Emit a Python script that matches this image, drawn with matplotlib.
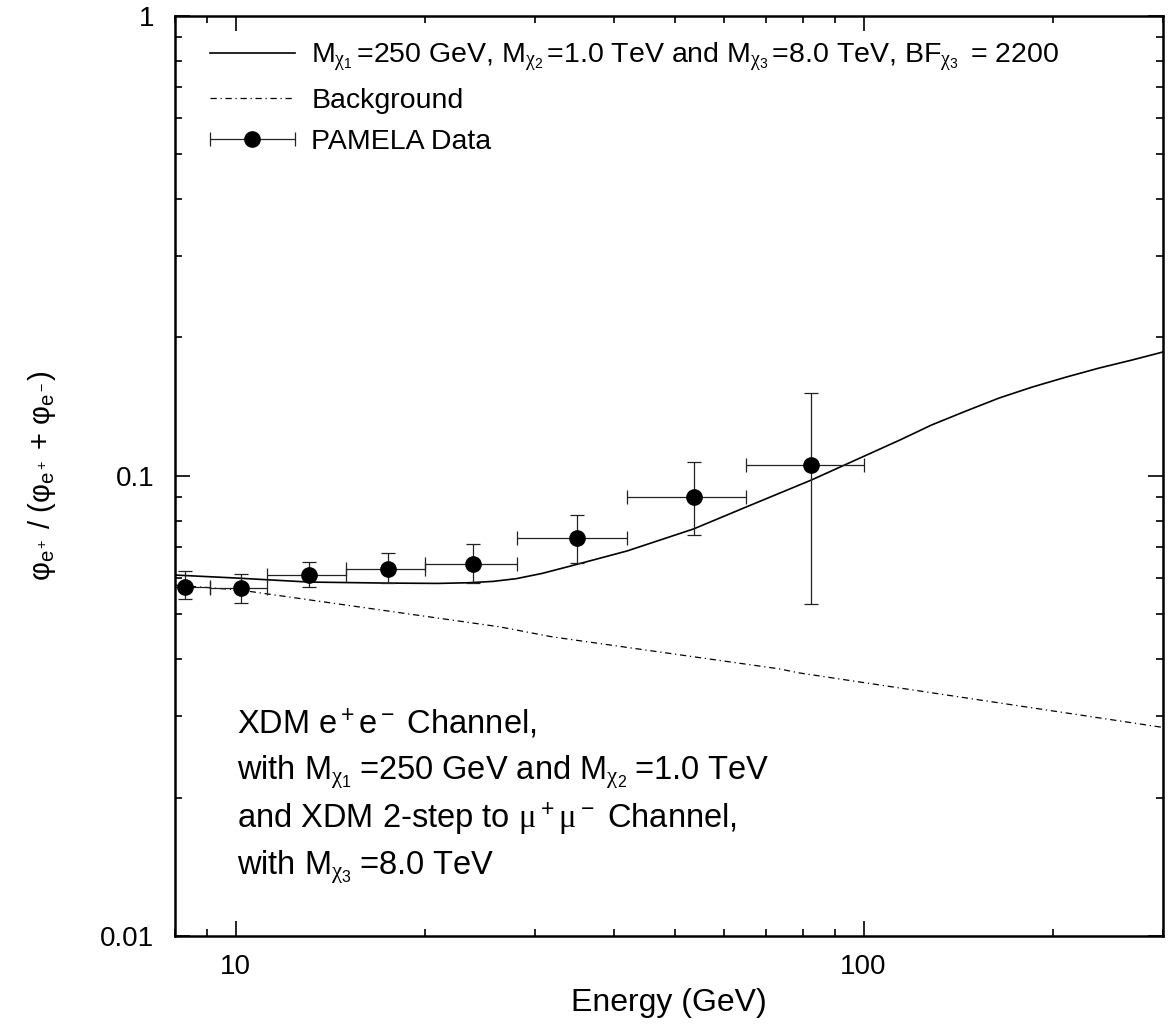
import matplotlib
matplotlib.use('Agg')
import matplotlib.pyplot as plt
from matplotlib.container import ErrorbarContainer
from matplotlib.legend_handler import HandlerErrorbar

plt.rcParams['font.family'] = ['Liberation Sans', 'DejaVu Sans']
plt.rcParams['mathtext.fontset'] = 'custom'
plt.rcParams['mathtext.rm'] = 'Liberation Sans'
plt.rcParams['mathtext.it'] = 'Liberation Serif'
plt.rcParams['mathtext.bf'] = 'Liberation Sans:bold'

# PAMELA positron fraction (bin centre, bin edges, value, error band)
pamela_e = [8.3, 10.2, 13.1, 17.5, 23.9, 34.9, 53.6, 82.6]
pamela_e_lo = [7.7, 9.1, 11.2, 15.0, 20.0, 28.0, 42.0, 65.0]
pamela_e_hi = [9.1, 11.2, 15.0, 20.0, 28.0, 42.0, 65.0, 100.0]
pamela_frac = [0.0574, 0.0571, 0.0609, 0.0628, 0.0644, 0.0733, 0.0900, 0.1057]
pamela_frac_lo = [0.0540, 0.0530, 0.0574, 0.0585, 0.0585, 0.0647, 0.0744, 0.0527]
pamela_frac_hi = [0.0621, 0.0612, 0.0650, 0.0681, 0.0711, 0.0822, 0.1072, 0.1515]

# XDM model curve
model_e = [8.0, 10.0, 13.07, 17.35, 21.0, 23.5, 25.7, 27.96, 30.76, 33.97, 37.93,
           42.0, 53.6, 65.0, 82.6, 99.6, 114.4, 128.4, 145.6, 164.4, 185.8,
           210.5, 237.6, 268.3, 300.0]
model_frac = [0.0609, 0.0600, 0.0588, 0.0585, 0.0584, 0.0586, 0.0590, 0.0598,
              0.0614, 0.0636, 0.0662, 0.0687, 0.0767, 0.0856, 0.0980, 0.1100,
              0.1198, 0.1291, 0.1384, 0.1477, 0.1561, 0.1641, 0.1717, 0.1788,
              0.1860]

# background
bg_e = [8.0, 10.15, 26.3, 31.9, 73.2, 79.1, 300.0]
bg_frac = [0.0579, 0.0565, 0.0470, 0.0447, 0.0381, 0.0373, 0.0284]

model_label = (r'M$_{\chi_1}\,$=250 GeV, M$_{\chi_2}\,$=1.0 TeV and '
               r'M$_{\chi_3}\,$=8.0 TeV, BF$_{\chi_3}\,$ = 2200')
note_lines = [r'XDM e$^+$e$^-$ Channel,',
              r'with M$_{\chi_1}\;$=250 GeV and M$_{\chi_2}\;$=1.0 TeV',
              r'and XDM 2-step to $\mu^+\mu^-$ Channel,',
              r'with M$_{\chi_3}\;$=8.0 TeV']

fig = plt.figure(figsize=(11.69, 10.29), dpi=100)
ax = fig.add_axes([0.1497, 0.0904, 0.8452, 0.8941])

ax.plot(model_e, model_frac, color='black', lw=1.2, label=model_label)
ax.plot(bg_e, bg_frac, color='black', lw=0.9, dashes=(5, 3, 1, 3), label='Background')

xerr = [[c - l for c, l in zip(pamela_e, pamela_e_lo)],
        [h - c for c, h in zip(pamela_e, pamela_e_hi)]]
yerr = [[c - l for c, l in zip(pamela_frac, pamela_frac_lo)],
        [h - c for c, h in zip(pamela_frac, pamela_frac_hi)]]
data = ax.errorbar(pamela_e, pamela_frac, xerr=xerr, fmt='o', color='black',
                   ecolor='#222222', ms=11, elinewidth=0.9, capsize=5, capthick=0.9,
                   label='PAMELA Data')
ax.errorbar(pamela_e, pamela_frac, yerr=yerr, fmt='none', ecolor='#222222',
            elinewidth=0.9, capsize=5, capthick=0.9)

ax.set_xscale('log')
ax.set_yscale('log')
ax.set_xlim(8, 300)
ax.set_ylim(0.01, 1)
ax.set_xticks([10, 100])
ax.set_xticklabels(['10', '100'])
ax.set_yticks([0.01, 0.1, 1])
ax.set_yticklabels(['0.01', '0.1', '1'])

for s in ax.spines.values():
    s.set_linewidth(1.8)
ax.tick_params(which='both', direction='in', top=True, right=True, width=1.2, labelsize=20)
ax.tick_params(which='major', length=10.5)
ax.tick_params(which='minor', length=5)
ax.tick_params(axis='x', pad=13)
ax.tick_params(axis='y', pad=15)

ax.set_xlabel('Energy (GeV)', fontsize=23)
ax.xaxis.set_label_coords(0.5, -0.056)
ax.set_ylabel(r'φ$_{\mathrm{e}^+}$ / (φ$_{\mathrm{e}^+}$ + φ$_{\mathrm{e}^-}$)', fontsize=21)
ax.yaxis.set_label_coords(-0.1184, 0.5)

ax.legend(loc='upper left', bbox_to_anchor=(0.0354, 1 - 24 / 920), frameon=False,
          fontsize=20.5, handlelength=2.98, handletextpad=0.58, labelspacing=0.52,
          borderpad=0, borderaxespad=0, numpoints=1,
          handler_map={ErrorbarContainer: HandlerErrorbar(xerr_size=1.49)})

note_y = [0.2207, 0.1707, 0.1185, 0.0674]
for line, yy in zip(note_lines, note_y):
    ax.text(0.0628, yy, line, transform=ax.transAxes, fontsize=23.5, va='baseline')

fig.savefig('out.png', dpi=100)
